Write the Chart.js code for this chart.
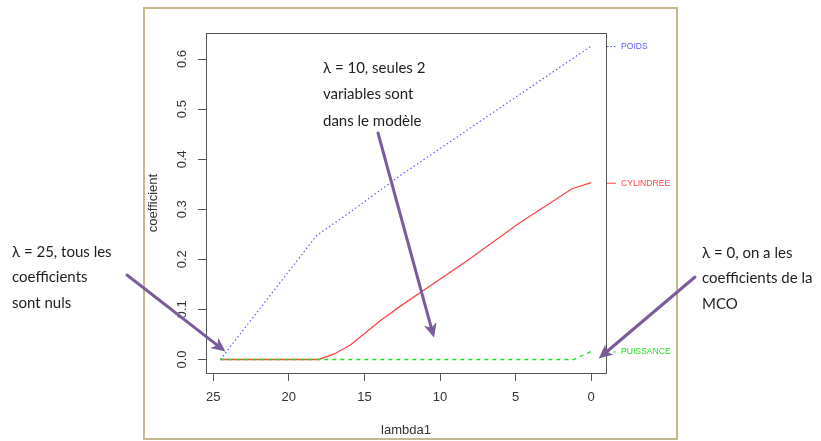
<!DOCTYPE html>
<html>
<head>
<meta charset="utf-8">
<script src="https://cdn.jsdelivr.net/npm/chart.js@4/dist/chart.umd.min.js"></script>
<style>
  html, body { margin: 0; padding: 0; background: #fff; }
  #wrap { width: 821px; height: 441px; }
</style>
</head>
<body>
<div id="wrap"><canvas id="c" width="821" height="441"></canvas></div>
<script>
// Lasso coefficient paths against the penalty lambda1
const lambdaPoids = [24.53, 18.15, 16.0, 12.6, 0];
const coefPoids   = [0, 0.248, 0.293, 0.368, 0.626];

const lambdaCylindree = [24.53, 18.0, 17.0, 15.93, 13.93, 12.6, 8.16, 4.82, 1.27, 0];
const coefCylindree   = [0, 0, 0.011, 0.029, 0.078, 0.107, 0.198, 0.271, 0.341, 0.353];

const lambdaPuissance = [24.53, 1.16, 0];
const coefPuissance   = [0, 0, 0.016];

const seriesNames = ['POIDS', 'CYLINDREE', 'PUISSANCE'];

const xTickValues = [25, 20, 15, 10, 5, 0];
const yTickValues = [0, 0.1, 0.2, 0.3, 0.4, 0.5, 0.6];
const yTickLabels = ['0.0', '0.1', '0.2', '0.3', '0.4', '0.5', '0.6'];

const xTitle = 'lambda1';
const yTitle = 'coefficient';

// Explanatory notes
const noteLeft   = ['\u03bb = 25, tous les', 'coefficients', 'sont nuls'];
const noteMiddle = ['\u03bb = 10, seules 2', 'variables sont', 'dans le mod\u00e8le'];
const noteRight  = ['\u03bb = 0, on a les', 'coefficients de la', 'MCO'];

const toPoints = (xs, ys) => xs.map((x, i) => ({ x: x, y: ys[i] }));

const COLORS = { poids: '#5c5cff', cyl: '#ff4646', puis: '#22dd22' };
const SANS = '"Liberation Sans", Arial, sans-serif';
const NOTE_FONT = '15px Lato, "Open Sans", sans-serif';

function drawArrow(ctx, x1, y1, x2, y2) {
  const ang = Math.atan2(y2 - y1, x2 - x1);
  const len = 14, half = 6.5;
  ctx.save();
  ctx.strokeStyle = '#7a5c9c';
  ctx.fillStyle = '#7a5c9c';
  ctx.lineWidth = 3;
  ctx.lineCap = 'round';
  ctx.beginPath();
  ctx.moveTo(x1, y1);
  ctx.lineTo(x2 - Math.cos(ang) * (len - 4), y2 - Math.sin(ang) * (len - 4));
  ctx.stroke();
  ctx.translate(x2, y2);
  ctx.rotate(ang);
  ctx.beginPath();
  ctx.moveTo(0, 0);
  ctx.lineTo(-len, -half);
  ctx.lineTo(-len + 4, 0);
  ctx.lineTo(-len, half);
  ctx.closePath();
  ctx.fill();
  ctx.restore();
}

const decor = {
  id: 'decor',
  beforeDraw(chart) {
    const ctx = chart.ctx;
    ctx.save();
    ctx.fillStyle = '#fff';
    ctx.fillRect(0, 0, chart.width, chart.height);
    ctx.restore();
  },
  afterDraw(chart) {
    const ctx = chart.ctx;
    const a = chart.chartArea;
    const xs = chart.scales.x, ys = chart.scales.y;
    ctx.save();

    // outer frame
    ctx.strokeStyle = '#c3b88e';
    ctx.lineWidth = 2;
    ctx.strokeRect(144, 8, 533, 431);

    // plot box
    ctx.strokeStyle = '#555';
    ctx.lineWidth = 1;
    ctx.strokeRect(Math.round(a.left) + 0.5, Math.round(a.top) + 0.5,
                   Math.round(a.right - a.left), Math.round(a.bottom - a.top));

    // y tick labels, rotated
    ctx.fillStyle = '#333';
    ctx.font = '13px ' + SANS;
    ctx.textAlign = 'center';
    ctx.textBaseline = 'middle';
    yTickValues.forEach((v, i) => {
      const py = ys.getPixelForValue(v);
      ctx.save();
      ctx.translate(182, py);
      ctx.rotate(-Math.PI / 2);
      ctx.fillText(yTickLabels[i], 0, 0);
      ctx.restore();
    });

    // axis titles
    ctx.save();
    ctx.translate(153, (a.top + a.bottom) / 2);
    ctx.rotate(-Math.PI / 2);
    ctx.fillText(yTitle, 0, 0);
    ctx.restore();
    ctx.fillText(xTitle, (a.left + a.right) / 2, 430);

    // series names at their final coefficient
    const ends = [
      { v: coefPoids[coefPoids.length - 1], c: COLORS.poids, dash: [1.5, 2] },
      { v: coefCylindree[coefCylindree.length - 1], c: COLORS.cyl, dash: [] },
      { v: coefPuissance[coefPuissance.length - 1], c: COLORS.puis, dash: [3, 3] }
    ];
    ctx.font = '8.6px ' + SANS;
    ctx.textAlign = 'left';
    ends.forEach((e, i) => {
      const py = ys.getPixelForValue(e.v);
      ctx.strokeStyle = e.c;
      ctx.setLineDash(e.dash);
      ctx.beginPath();
      ctx.moveTo(a.right + 1, py + 0.5);
      ctx.lineTo(a.right + 10, py + 0.5);
      ctx.stroke();
      ctx.setLineDash([]);
      ctx.fillStyle = e.c;
      ctx.fillText(seriesNames[i], 621, py + 0.5);
    });

    // notes
    ctx.fillStyle = '#1e1e1e';
    ctx.font = NOTE_FONT;
    ctx.textBaseline = 'middle';
    const block = (lines, x, y0, gap) => lines.forEach((t, i) => ctx.fillText(t, x, y0 + i * gap));
    block(noteLeft, 12, 252, 25.5);
    block(noteMiddle, 323, 68, 26.5);
    block(noteRight, 702, 253, 25.5);

    // arrows towards the designated points
    drawArrow(ctx, 127, 275, xs.getPixelForValue(24.2), ys.getPixelForValue(0.016));
    drawArrow(ctx, 378, 133, xs.getPixelForValue(10.4), ys.getPixelForValue(0.044));
    drawArrow(ctx, 695, 277, xs.getPixelForValue(-0.5), ys.getPixelForValue(0.002));

    ctx.restore();
  }
};

new Chart(document.getElementById('c'), {
  type: 'line',
  data: {
    datasets: [
      {
        label: seriesNames[2],
        data: toPoints(lambdaPuissance, coefPuissance),
        borderColor: COLORS.puis,
        borderWidth: 1.3,
        borderDash: [4, 4],
        pointRadius: 0,
        order: 0
      },
      {
        label: seriesNames[1],
        data: toPoints(lambdaCylindree, coefCylindree),
        borderColor: COLORS.cyl,
        borderWidth: 1.3,
        pointRadius: 0,
        order: 1
      },
      {
        label: seriesNames[0],
        data: toPoints(lambdaPoids, coefPoids),
        borderColor: COLORS.poids,
        borderWidth: 1.2,
        borderDash: [1.5, 2.5],
        pointRadius: 0,
        order: 2
      }
    ]
  },
  options: {
    responsive: false,
    animation: false,
    devicePixelRatio: 1,
    layout: { padding: { left: 0, right: 215, top: 33, bottom: 0 } },
    plugins: { legend: { display: false }, tooltip: { enabled: false } },
    elements: { line: { tension: 0 } },
    scales: {
      x: {
        type: 'linear',
        reverse: true,
        min: -0.98,
        max: 25.48,
        afterBuildTicks: s => { s.ticks = xTickValues.map(v => ({ value: v })); },
        afterFit: s => { s.height = 68; },
        border: { display: false },
        grid: { drawOnChartArea: false, drawTicks: true, tickLength: 8, color: '#555' },
        ticks: {
          color: '#333',
          font: { family: SANS, size: 13 },
          padding: 9,
          maxRotation: 0,
          callback: v => String(v)
        }
      },
      y: {
        type: 'linear',
        min: -0.027,
        max: 0.652,
        afterBuildTicks: s => { s.ticks = yTickValues.map(v => ({ value: v })); },
        afterFit: s => { s.width = 206; },
        border: { display: false },
        grid: { drawOnChartArea: false, drawTicks: true, tickLength: 8, color: '#555' },
        ticks: { display: false }
      }
    }
  },
  plugins: [decor]
});
</script>
</body>
</html>
